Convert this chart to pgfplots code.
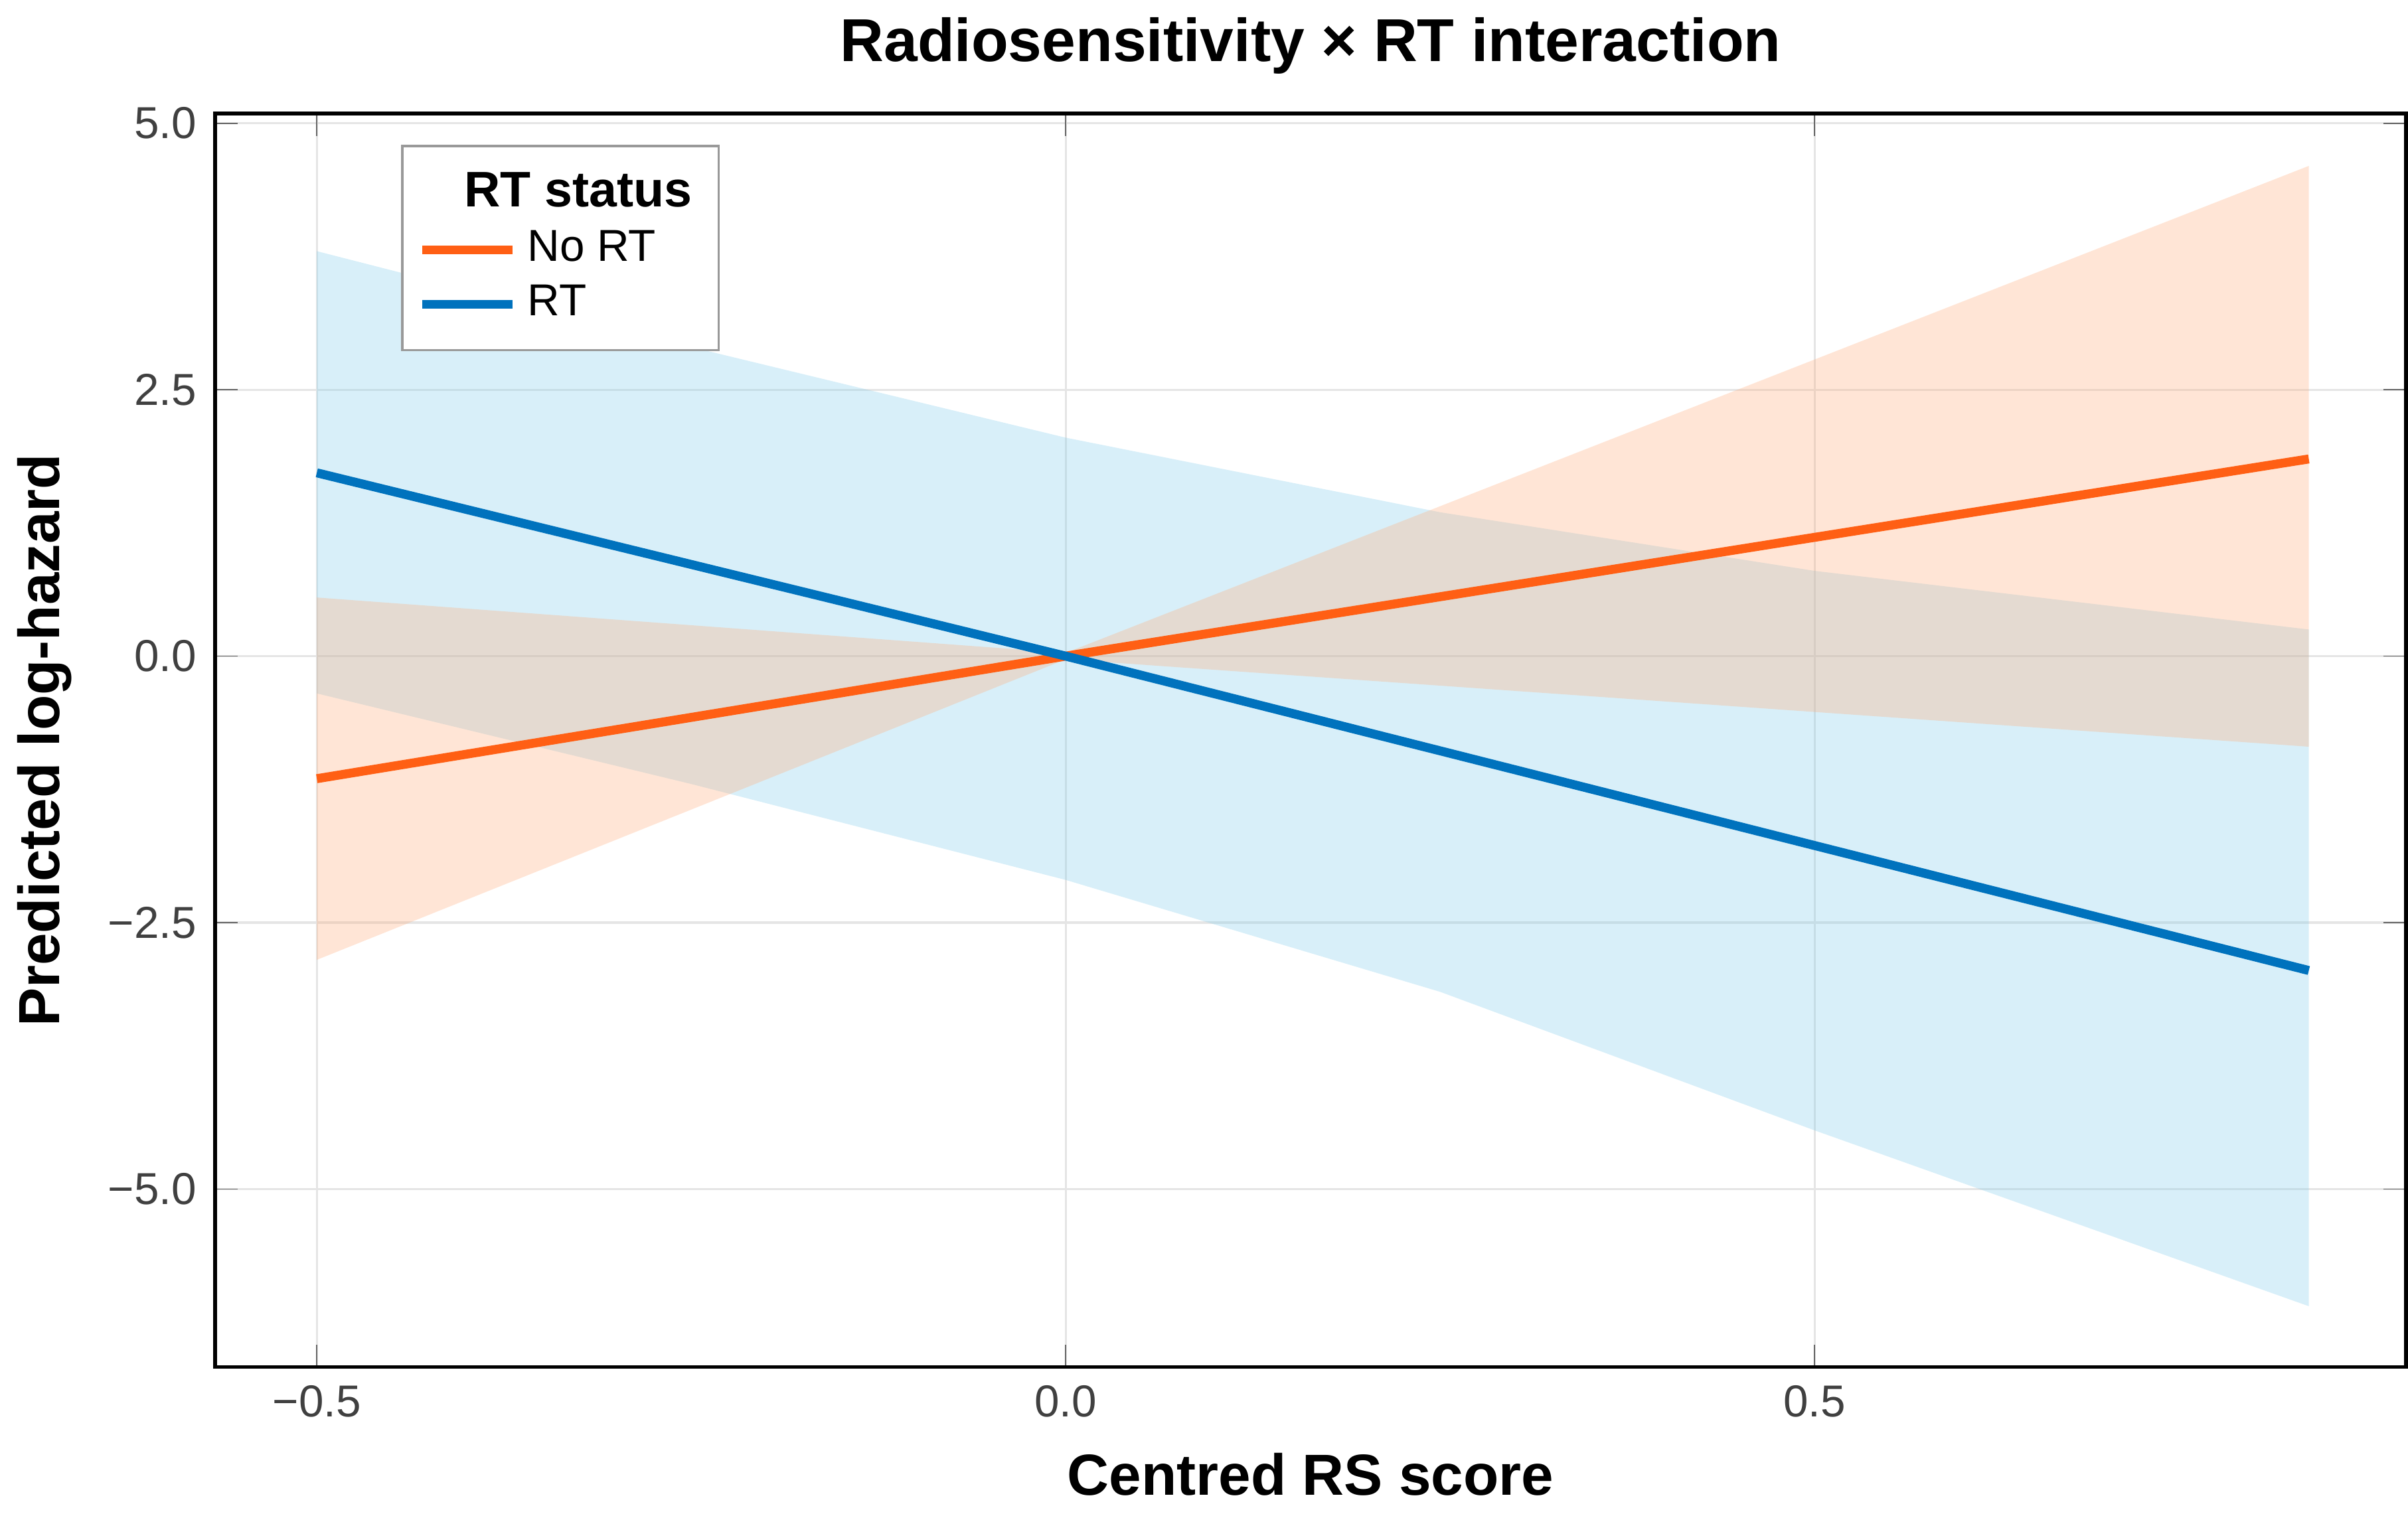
\documentclass[border=0pt]{standalone}
\usepackage{pgfplots}
\pgfplotsset{compat=1.18}
\usepackage{fontspec}
\setmainfont{Liberation Sans}
\usepgfplotslibrary{fillbetween}
\definecolor{norc}{RGB}{255,95,20}
\definecolor{rtc}{RGB}{0,114,189}
\definecolor{bandb}{RGB}{135,206,235}
\definecolor{bando}{RGB}{255,170,120}
\begin{document}
\begin{tikzpicture}
\begin{axis}[
  scale only axis, width=416pt, height=238pt,
  xmin=-0.568, xmax=0.895, ymin=-6.67, ymax=5.09,
  xtick={-0.5,0,0.5}, xticklabels={−0.5,0.0,0.5},
  ytick={-5,-2.5,0,2.5,5}, yticklabels={−5.0,−2.5,0.0,2.5,5.0},
  tick label style={font=\fontsize{8.5}{10}\selectfont, text=black!75},
  grid=major, grid style={black!10, line width=0.4pt},
  axis line style={line width=0.7pt},
  tick style={black!60},
  xlabel={\bfseries Centred RS score}, ylabel={\bfseries Predicted log-hazard},
  label style={font=\fontsize{11}{13}\selectfont\bfseries},
  title={\bfseries Radiosensitivity × RT interaction},
  title style={font=\fontsize{11.5}{13}\selectfont\bfseries, yshift=-2pt},
  legend style={at={(0.085,0.975)}, anchor=north west, draw=black!40, font=\fontsize{8.5}{10}\selectfont, row sep=-1pt, inner sep=3pt},
  legend cell align=left,
]
\addplot[name path=ru, draw=none, forget plot] coordinates {(-0.5,3.8) (-0.25,2.9) (0,2.05) (0.25,1.35) (0.5,0.8) (0.83,0.25)};
\addplot[name path=rl, draw=none, forget plot] coordinates {(-0.5,-0.35) (-0.25,-1.2) (0,-2.1) (0.25,-3.15) (0.5,-4.45) (0.83,-6.1)};
\addplot[bandb, fill opacity=0.32, forget plot] fill between[of=ru and rl];
\addplot[name path=ou, draw=none, forget plot] coordinates {(-0.5,0.55) (0,0.03) (0.83,4.6)};
\addplot[name path=ol, draw=none, forget plot] coordinates {(-0.5,-2.85) (0,-0.03) (0.83,-0.85)};
\addplot[bando, fill opacity=0.3, forget plot] fill between[of=ou and ol];
\addlegendimage{empty legend}
\addlegendentry{\hspace{-12pt}\bfseries\fontsize{9.5}{11}\selectfont RT status}
\addplot[norc, line width=1.7pt] coordinates {(-0.5,-1.15) (0,0) (0.83,1.85)};
\addlegendentry{No RT}
\addplot[rtc, line width=1.7pt] coordinates {(-0.5,1.72) (0,0) (0.83,-2.95)};
\addlegendentry{RT}
\end{axis}
\end{tikzpicture}
\end{document}
